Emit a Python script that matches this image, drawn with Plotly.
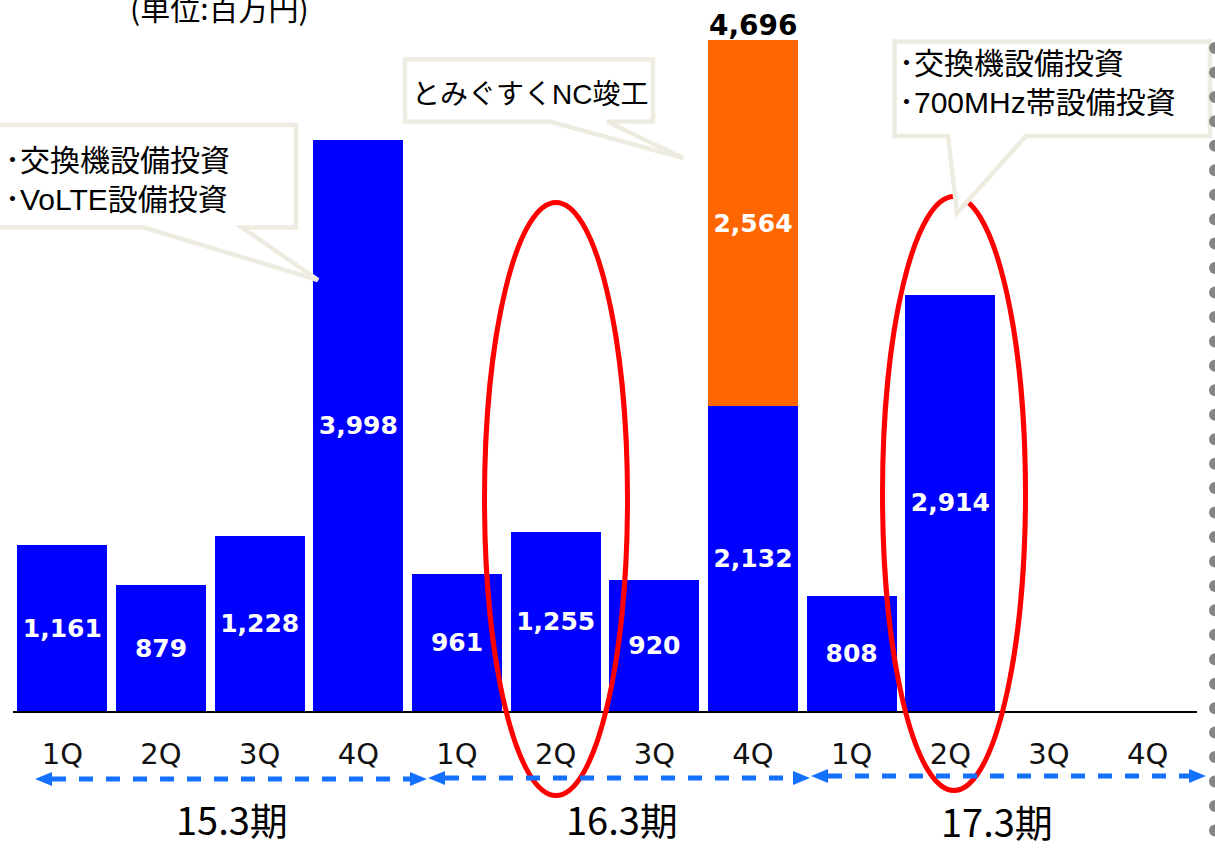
import plotly.graph_objects as go

# ---- data (単位: 百万円) ----
quarters = ["1Q", "2Q", "3Q", "4Q", "1Q", "2Q", "3Q", "4Q", "1Q", "2Q", "3Q", "4Q"]
capex_base = [1161, 879, 1228, 3998, 961, 1255, 920, 2132, 808, 2914, None, None]
capex_nc = [None, None, None, None, None, None, None, 2564, None, None, None, None]
periods = ["15.3期", "16.3期", "17.3期"]
unit_label = "(単位:百万円)"
note_left = ["･交換機設備投資", "･VoLTE設備投資"]
note_mid = ["とみぐすくNC竣工"]
note_right = ["･交換機設備投資", "･700MHz帯設備投資"]

# ---- page geometry ----
W, H = 1215, 848
ML, MR, MT, MB = 13, 18, 0, 137
PW, PH = W - ML - MR, H - MT - MB
Y_TOP = 4977

BLUE = "#0000FF"
ORANGE = "#FF6600"
CALLOUT_LINE = "#EEECE1"
ARROW = "#1470FF"
CJK = "Noto Sans CJK JP"
NOTE_FONT = "Liberation Sans, Noto Sans CJK JP"

def px(x):
    return (x - ML) / PW

def py(y):
    return (MT + PH - y) / PH

def fmt(v):
    return f"{v:,}" if v is not None else ""

x_idx = list(range(len(quarters)))
bar_font = dict(family="DejaVu Sans", size=25, color="white", weight="bold")

fig = go.Figure()
fig.add_trace(go.Bar(
    x=x_idx, y=capex_base, marker=dict(color=BLUE, line=dict(width=0)),
    width=0.915, text=[fmt(v) for v in capex_base], textposition="inside",
    insidetextanchor="middle", textfont=bar_font, constraintext="none",
    hoverinfo="skip",
))
fig.add_trace(go.Bar(
    x=x_idx, y=capex_nc, marker=dict(color=ORANGE, line=dict(width=0)),
    width=0.915, text=[fmt(v) for v in capex_nc], textposition="inside",
    insidetextanchor="middle", textfont=bar_font, constraintext="none",
    hoverinfo="skip",
))

annotations = []

# stacked total above the orange bar
for i, (b, n) in enumerate(zip(capex_base, capex_nc)):
    if n is not None:
        annotations.append(dict(
            x=i, y=b + n, xref="x", yref="y", text=f"<b>{b + n:,}</b>",
            showarrow=False, yanchor="bottom", yshift=-4,
            font=dict(family="DejaVu Sans", size=28, color="black"),
        ))

# fiscal period labels
period_pos = [(232, 818), (622, 818), (997, 820)]
for label, (cx, cy) in zip(periods, period_pos):
    annotations.append(dict(
        x=px(cx), y=py(cy), xref="paper", yref="paper", text=label,
        showarrow=False, xanchor="center", yanchor="middle",
        font=dict(family=CJK, size=38, color="black"),
    ))

# unit caption at the top edge
annotations.append(dict(
    x=px(219), y=py(7), xref="paper", yref="paper", text=unit_label,
    showarrow=False, xanchor="center", yanchor="middle",
    font=dict(family=CJK, size=30, color="black"),
))

# callout texts, one annotation per line
def note_lines(lines, x_left, y_first, step, size):
    for j, line in enumerate(lines):
        annotations.append(dict(
            x=px(x_left), y=py(y_first + j * step), xref="paper", yref="paper",
            text=line, showarrow=False, xanchor="left", yanchor="middle",
            font=dict(family=NOTE_FONT, size=size, color="black"),
        ))

note_lines(note_left, 3, 160, 39, 30)
note_lines(note_right, 897, 63, 39, 30)
annotations.append(dict(
    x=px(530), y=py(94), xref="paper", yref="paper", text=note_mid[0],
    showarrow=False, xanchor="center", yanchor="middle",
    font=dict(family=NOTE_FONT, size=28, color="black"),
))

shapes = []

# red highlight ellipses
for (x0, y0, x1, y1) in [(484.5, 202.5, 627.5, 795.5), (882.5, 196.5, 1025.5, 790.5)]:
    shapes.append(dict(
        type="circle", xref="paper", yref="paper",
        x0=px(x0), x1=px(x1), y0=py(y1), y1=py(y0),
        line=dict(color="#FF0000", width=5), fillcolor="rgba(0,0,0,0)", layer="above",
    ))

# speech-bubble callouts
def bubble(left, top, right, bottom, base_l, base_r, tip):
    pts = [(left, top), (right, top), (right, bottom), (base_r, bottom), tip,
           (base_l, bottom), (left, bottom)]
    d = "M " + " L ".join(f"{px(a):.5f},{py(b):.5f}" for a, b in pts) + " Z"
    return dict(type="path", xref="paper", yref="paper", path=d,
                fillcolor="white", line=dict(color=CALLOUT_LINE, width=4.5),
                layer="above")

shapes.append(bubble(-20, 125, 296, 227.5, 144, 242, (318, 280)))
shapes.append(bubble(405, 59.5, 653, 121.5, 550, 607, (683, 158)))
shapes.append(bubble(894.5, 41.5, 1210, 136, 948, 1026, (957, 213)))

# dashed period arrows with triangular heads
def period_arrow(xl, xr, y, head=17, half=7):
    out = [dict(type="line", xref="paper", yref="paper",
                x0=px(xl + head), x1=px(xr - head), y0=py(y), y1=py(y),
                line=dict(color=ARROW, width=5, dash="14px,13px"), layer="above")]
    left = f"M {px(xl):.5f},{py(y):.5f} L {px(xl + head):.5f},{py(y - half):.5f} L {px(xl + head):.5f},{py(y + half):.5f} Z"
    right = f"M {px(xr):.5f},{py(y):.5f} L {px(xr - head):.5f},{py(y - half):.5f} L {px(xr - head):.5f},{py(y + half):.5f} Z"
    for p in (left, right):
        out.append(dict(type="path", xref="paper", yref="paper", path=p,
                        fillcolor=ARROW, line=dict(width=0), layer="above"))
    return out

shapes += period_arrow(35, 427, 779)
shapes += period_arrow(428, 810, 778)
shapes += period_arrow(811, 1206, 776)

# dotted grey frame edge on the right
dot_r = 6
k = 0
while 48 + 24.45 * k < H + dot_r:
    cy = 48 + 24.45 * k
    shapes.append(dict(
        type="circle", xref="paper", yref="paper",
        x0=px(1215 - dot_r), x1=px(1215 + dot_r), y0=py(cy + dot_r), y1=py(cy - dot_r),
        fillcolor="#858585", line=dict(width=0), layer="above",
    ))
    k += 1

fig.update_layout(
    width=W, height=H,
    margin=dict(l=ML, r=MR, t=MT, b=MB, pad=0),
    paper_bgcolor="white", plot_bgcolor="white",
    barmode="stack", showlegend=False,
    xaxis=dict(
        range=[-0.5, len(quarters) - 0.5], tickmode="array", tickvals=x_idx,
        ticktext=quarters, ticks="", showgrid=False, zeroline=False,
        showline=True, linecolor="black", linewidth=1.5,
        tickfont=dict(family="DejaVu Sans", size=29, color="#111111"),
        ticklabelstandoff=16, fixedrange=True,
    ),
    yaxis=dict(range=[0, Y_TOP], visible=False, showgrid=False, zeroline=False,
               fixedrange=True),
    annotations=annotations, shapes=shapes,
)

fig.write_html("out.html")
